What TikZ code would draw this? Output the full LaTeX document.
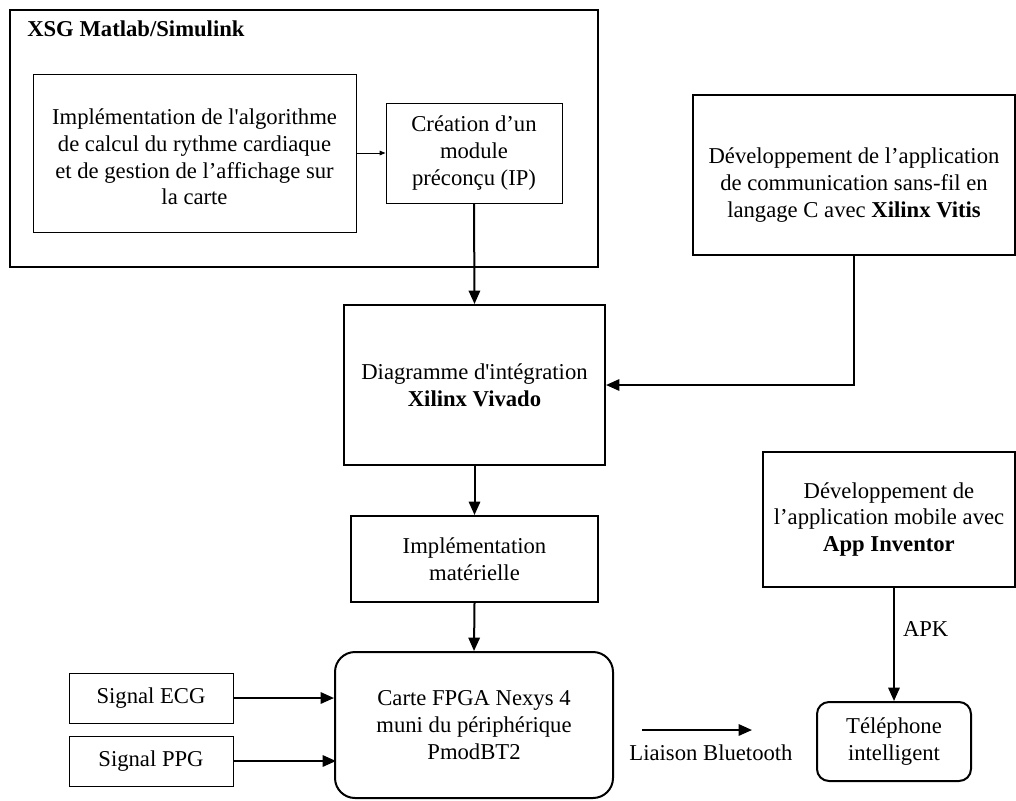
\documentclass[tikz,border=0pt]{standalone}
\usepackage{fontspec}
\newfontfamily\lib{Liberation Serif}
\usetikzlibrary{arrows.meta}
\begin{document}
\begin{tikzpicture}[x=0.75pt,y=-0.75pt,
  every node/.style={font=\lib\fontsize{17}{20}\selectfont, align=center, inner sep=0pt},
  thick box/.style={draw, line width=1.5pt},
  thin box/.style={draw, line width=0.75pt},
  conn/.style={line width=1.5pt, -{Triangle[length=10pt,width=8.5pt]}},
  small conn/.style={line width=0.75pt, -{Triangle[length=4.5pt,width=3.5pt]}}
]
\useasboundingbox (0,0) rectangle (1016,800);
\fill[white] (0,0) rectangle (1016,800);

% boxes
\node[thick box, minimum width=441pt, minimum height=192.75pt] (xsg) at (304,138.5) {};
\node[anchor=west, font=\lib\bfseries\fontsize{17}{20}\selectfont] (xsgt) at (27,29) {XSG Matlab/Simulink};
\node[thin box, minimum width=242.25pt, minimum height=118.5pt] (impl) at (194.5,153) {};
\node (implt) at (194.5,157) {Implémentation de l'algorithme\\de calcul du rythme cardiaque\\et de gestion de l’affichage sur\\la carte};
\node[thin box, minimum width=132pt, minimum height=75pt] (crea) at (474,153) {Création d’un\\module\\préconçu (IP)};
\node[thick box, minimum width=241.5pt, minimum height=120pt] (vitis) at (854,175) {};
\node (vitist) at (854,185) {Développement de l’application\\de communication sans-fil en\\langage C avec \textbf{Xilinx Vitis}};
\node[thick box, minimum width=195.75pt, minimum height=120pt] (diag) at (474.5,385) {Diagramme d'intégration\\\textbf{Xilinx Vivado}};
\node[thick box, minimum width=185.25pt, minimum height=64.5pt] (mat) at (474.5,559) {Implémentation\\matérielle};
\node[thick box, rounded corners=15pt, minimum width=208.5pt, minimum height=109.5pt] (fpga) at (474,725) {Carte FPGA Nexys 4\\muni du périphérique\\PmodBT2};
\node[thin box, minimum width=123pt, minimum height=37.5pt] (ecg) at (151,698) {Signal ECG};
\node[thin box, minimum width=123pt, minimum height=37.5pt] (ppg) at (151,761) {Signal PPG};
\node[thick box, minimum width=189pt, minimum height=101.25pt] (app) at (889,519.5) {Développement de\\l’application mobile avec\\\textbf{App Inventor}};
\node[thick box, rounded corners=9pt, minimum width=115.5pt, minimum height=59.25pt] (tel) at (894,741.5) {Téléphone\\intelligent};

% connectors
\draw[small conn] (impl.east |- crea.west) -- (crea.west);
\draw[conn] (crea.south) -- (diag.north);
\draw[conn] (vitis.south) |- (diag.east);
\draw[conn] (diag.south) -- (mat.north);
\draw[conn] (mat.south) -- (fpga.north);
\draw[conn] (ecg.east) -- (fpga.west |- ecg.east);
\draw[conn] (ppg.east) -- ([xshift=1.5pt]fpga.west |- ppg.east);
\coordinate (bt1) at (642,730);
\coordinate (bt2) at (752,730);
\draw[conn] (bt1) -- (bt2);
\node (btl) at (711,753) {Liaison Bluetooth};
\draw[conn] (tel.north |- app.south) -- (tel.north) node[pos=0.36, right=6pt] (apk) {APK};
\end{tikzpicture}
\end{document}
